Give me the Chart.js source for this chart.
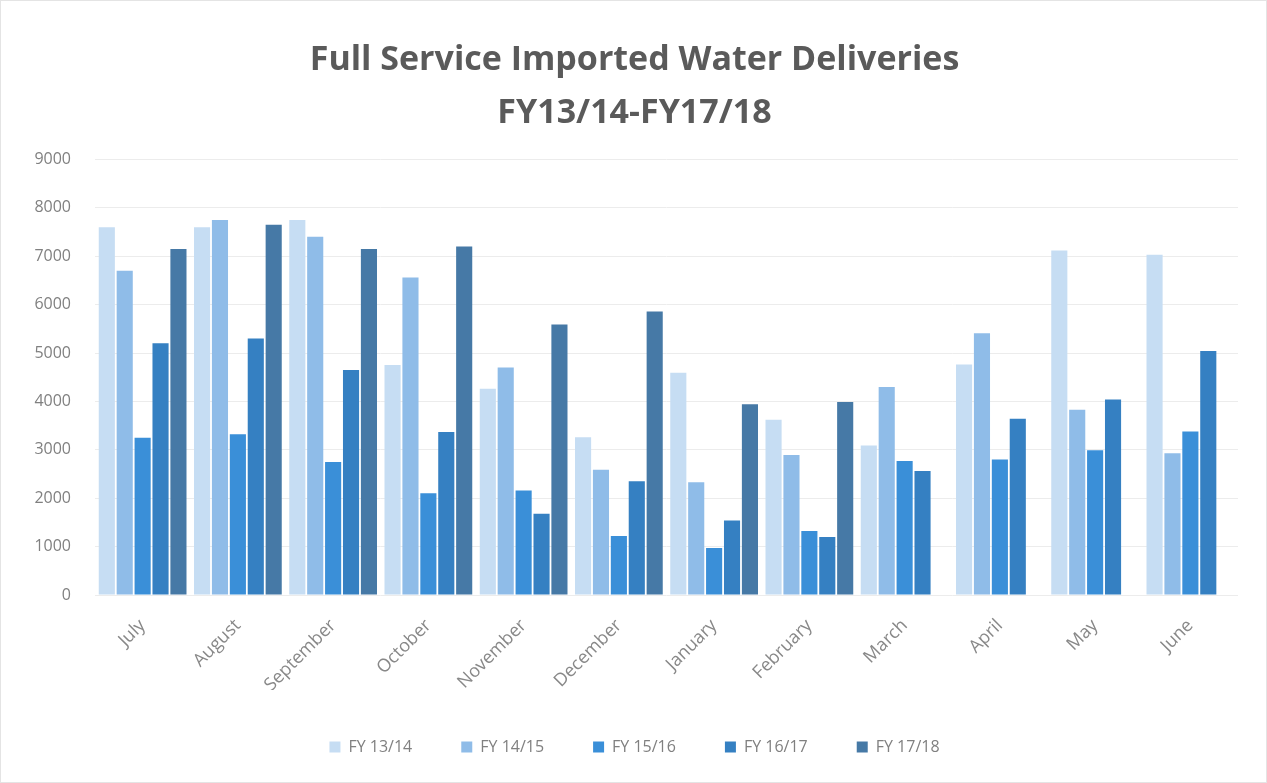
<!DOCTYPE html>
<html lang="en">
<head>
  <meta charset="UTF-8" />
  <title>Full Service Imported Water Deliveries</title>
  <script src="https://cdn.jsdelivr.net/npm/chart.js"></script>
  <style>
    html, body {
      margin: 0;
      padding: 0;
      background: #ffffff;
    }
    .wrap {
      position: relative;
      width: 1267px;
      height: 783px;
      box-sizing: border-box;
      border: 1px solid #e4e4e4;
    }
  </style>
</head>
<body>
<div class="wrap">
  <canvas id="waterChart"></canvas>
</div>

<script>
  // months of the fiscal year
  const months = ['July', 'August', 'September', 'October', 'November', 'December',
                  'January', 'February', 'March', 'April', 'May', 'June'];

  // deliveries per fiscal year
  const fy1314 = [7600, 7600, 7750, 4750, 4260, 3260, 4590, 3620, 3090, 4760, 7120, 7030];
  const fy1415 = [6700, 7750, 7400, 6560, 4700, 2590, 2330, 2890, 4300, 5410, 3830, 2930];
  const fy1516 = [3250, 3320, 2750, 2100, 2160, 1220, 970, 1320, 2770, 2800, 2990, 3380];
  const fy1617 = [5200, 5300, 4650, 3370, 1680, 2350, 1540, 1200, 2560, 3640, 4040, 5040];
  const fy1718 = [7150, 7650, 7150, 7200, 5590, 5860, 3940, 3990, null, null, null, null];

  const seriesNames = ['FY 13/14', 'FY 14/15', 'FY 15/16', 'FY 16/17', 'FY 17/18'];
  const seriesColors = ['#c6ddf3', '#8fbce8', '#3a8fd8', '#3580c2', '#4679a6'];

  const yTicks = [0, 1000, 2000, 3000, 4000, 5000, 6000, 7000, 8000, 9000];

  const allSeries = [fy1314, fy1415, fy1516, fy1617, fy1718];

  const ctx = document.getElementById('waterChart').getContext('2d');
  const chart = new Chart(ctx, {
    type: 'bar',
    data: {
      labels: months,
      datasets: allSeries.map((vals, i) => ({
        label: seriesNames[i],
        data: vals,
        backgroundColor: seriesColors[i],
        borderWidth: 0,
        barPercentage: 0.9,
        categoryPercentage: 0.94
      }))
    },
    options: {
      responsive: true,
      maintainAspectRatio: false,
      animation: false,
      layout: {
        padding: { left: 30, right: 28, top: 33, bottom: 17 }
      },
      plugins: {
        title: {
          display: true,
          text: ['Full Service Imported Water Deliveries', 'FY13/14-FY17/18'],
          color: '#5a5a5a',
          font: { family: 'Open Sans', size: 34, weight: 'bold', lineHeight: 1.55 },
          padding: { top: 0, bottom: 20 }
        },
        legend: {
          position: 'bottom',
          labels: {
            color: '#808080',
            font: { family: 'Open Sans', size: 16 },
            boxWidth: 11,
            boxHeight: 11,
            padding: 49
          }
        },
        tooltip: { enabled: false }
      },
      scales: {
        x: {
          grid: { display: false },
          border: { display: false },
          ticks: {
            color: '#888888',
            font: { family: 'Open Sans', size: 18 },
            maxRotation: 45,
            minRotation: 45,
            padding: 12
          },
          afterFit: axis => { axis.height = 95; }
        },
        y: {
          min: 0,
          max: 9000,
          afterBuildTicks: axis => { axis.ticks = yTicks.map(v => ({ value: v })); },
          grid: { color: '#ececec', drawTicks: false },
          border: { display: false },
          ticks: {
            color: '#808080',
            font: { family: 'Open Sans', size: 16 },
            padding: 24,
            callback: v => String(v)
          },
          afterFit: axis => { axis.width = 64; }
        }
      }
    }
  });
</script>
</body>
</html>
